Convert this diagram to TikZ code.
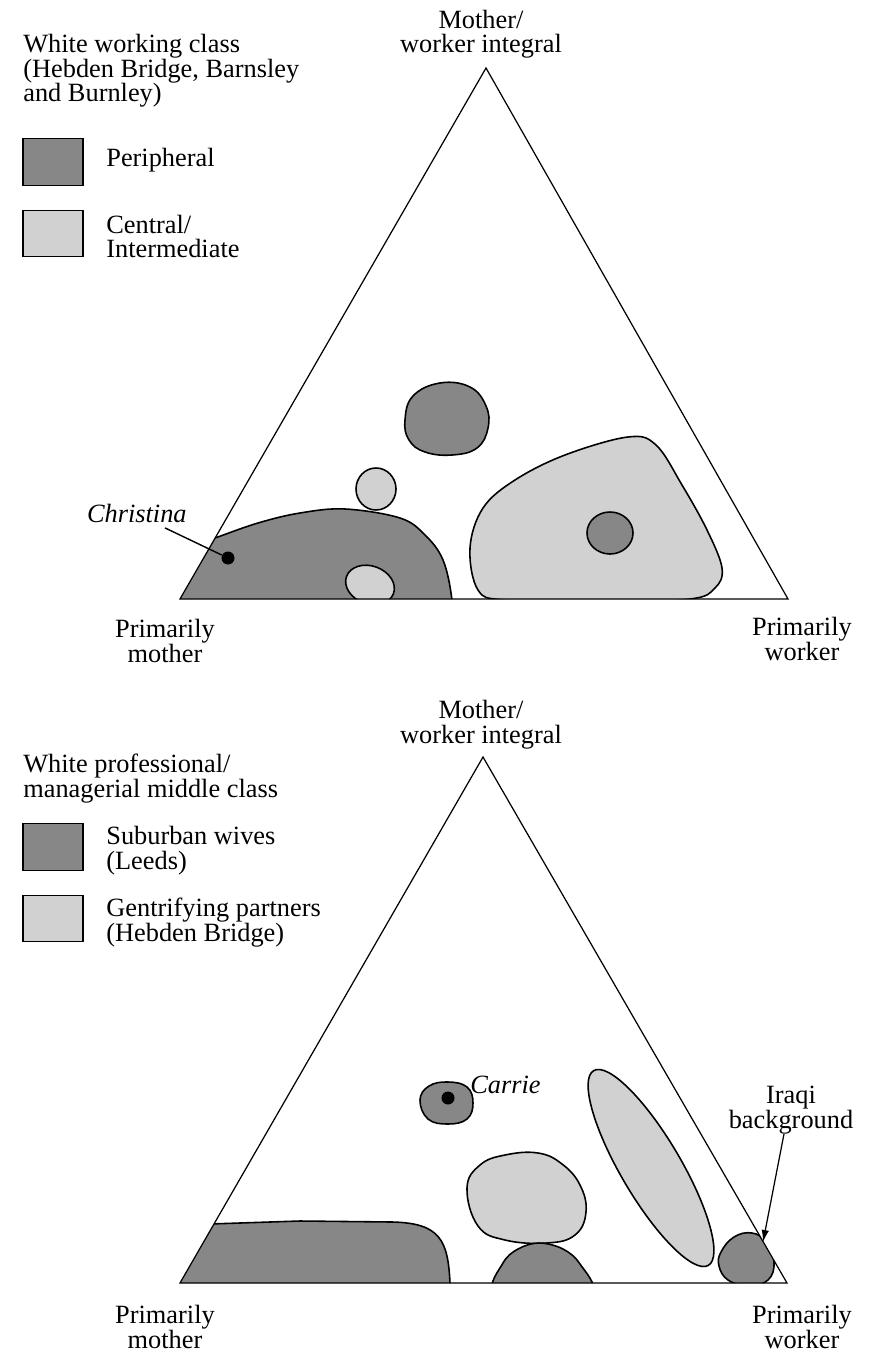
\documentclass[tikz,border=0pt]{standalone}
\usepackage{fontspec}
\setmainfont{Liberation Serif}
\usetikzlibrary{arrows.meta,calc}
\definecolor{darkfill}{gray}{0.53}
\definecolor{lightfill}{gray}{0.82}
\tikzset{
  tri/.style={line width=0.7pt, line join=miter},
  darkzone/.style={fill=darkfill, draw=black, line width=0.9pt},
  lightzone/.style={fill=lightfill, draw=black, line width=0.9pt},
  legbox/.style={draw=black, line width=0.8pt, minimum width=1.2cm, minimum height=0.93cm, inner sep=0pt},
  txt/.style={font=\fontsize{15}{14}\selectfont, inner sep=0pt},
  personlbl/.style={font=\fontsize{15}{14}\selectfont\itshape, inner sep=0pt},
  pin/.style={circle, fill=black, minimum size=0.26cm, inner sep=0pt},
  leader/.style={line width=0.8pt},
  pointer/.style={line width=0.7pt, -{Latex[length=2.4mm, width=1.5mm]}}
}

\begin{document}
\begin{tikzpicture}[x=0.02cm, y=-0.02cm]
\useasboundingbox (0,0) rectangle (868,1354);

% upper triangle: white working class
\coordinate (tA) at (486,68);
\coordinate (tL) at (180,599);
\coordinate (tR) at (788,599);

\node[txt, anchor=base west, align=left] (wtitle) at (23,102) {White working class\\(Hebden Bridge, Barnsley\\and Burnley)};
\node[legbox, fill=darkfill] (kperi) at (53,162) {};
\node[txt, anchor=base west] (lperi) at (106,167) {Peripheral};
\node[legbox, fill=lightfill] (kcent) at (53,233.5) {};
\node[txt, anchor=base west, align=left] (lcent) at (106,258) {Central/\\Intermediate};

\begin{scope}
\clip (tL) -- (tA) -- (tR) -- cycle;
\draw[darkzone] plot[smooth cycle, tension=0.6] coordinates {(140,640) (150,552) (195,545) (215,538) (258,523) (300,513) (345,509) (400,518) (425,535) (443,560) (452,600) (455,650) (300,660)};
\draw[lightzone] (370,585) circle [x radius=25, y radius=19, rotate=-20];
\draw[lightzone] (376,489) circle [x radius=20, y radius=21];
\draw[darkzone] plot[smooth cycle, tension=0.7] coordinates {(405,420) (413,396) (440,383) (470,387) (486,406) (488,428) (477,448) (452,455) (425,452) (409,440)};
\draw[lightzone] plot[smooth cycle, tension=0.6] coordinates {(470,548) (483,508) (515,480) (565,455) (628,437) (656,445) (682,485) (707,530) (722,568) (715,588) (690,599) (600,602) (505,600) (478,590)};
\draw[darkzone] (610,533) circle [x radius=23, y radius=21];
\end{scope}
\draw[tri] (tL) -- (tA) -- (tR) -- cycle;

\node[pin] (cdot) at (228,558) {};
\node[personlbl, anchor=base east] (christina) at (187,522) {Christina};
\draw[leader] ([yshift=-3pt]$(christina.south)!0.56!(christina.south east)$) -- (cdot);

\node[txt, anchor=base, align=center] (ttop) at (481,53) {Mother/\\worker integral};
\node[txt, anchor=base, align=center] (tmum) at (165,662) {Primarily\\mother};
\node[txt, anchor=base, align=center] (twork) at (802,660) {Primarily\\worker};

% lower triangle: professional/managerial middle class
\coordinate (bA) at (483,757);
\coordinate (bL) at (180,1283);
\coordinate (bR) at (787,1283);

\node[txt, anchor=base west, align=left] (mtitle) at (23,797) {White professional/\\managerial middle class};
\node[legbox, fill=darkfill] (ksub) at (53,847) {};
\node[txt, anchor=base west, align=left] (lsub) at (106,869) {Suburban wives\\(Leeds)};
\node[legbox, fill=lightfill] (kgen) at (53,918.5) {};
\node[txt, anchor=base west, align=left] (lgen) at (106,941) {Gentrifying partners\\(Hebden Bridge)};

\begin{scope}
\clip (bL) -- (bA) -- (bR) -- cycle;
\draw[darkzone] (150,1226) -- (300,1221) -- (392,1222) .. controls (440,1223) and (448,1240) .. (450,1283) -- (450,1320) -- (150,1320) -- cycle;
\draw[lightzone] plot[smooth cycle, tension=0.7] coordinates {(467,1188) (480,1165) (505,1155) (538,1153) (562,1164) (580,1185) (586,1212) (575,1235) (547,1243) (505,1240) (478,1226)};
\draw[darkzone] plot[smooth cycle, tension=0.6] coordinates {(494,1292) (503,1263) (518,1249) (539,1243) (563,1249) (580,1264) (592,1292) (545,1305)};
\draw[lightzone] (651,1168) circle [x radius=113, y radius=30, rotate=-59.5];
\draw[darkzone] plot[smooth cycle, tension=0.7] coordinates {(721,1252) (734,1237) (752,1233) (766,1242) (774,1262) (768,1280) (748,1286) (728,1280) (719,1266)};
\draw[darkzone] plot[smooth cycle, tension=0.7] coordinates {(420,1100) (429,1086) (448,1082) (467,1087) (473,1103) (467,1119) (448,1124) (428,1119)};
\end{scope}
\draw[tri] (bL) -- (bA) -- (bR) -- cycle;

\node[pin] (rdot) at (448,1098) {};
\node[personlbl, anchor=base west] (carrie) at (470,1093) {Carrie};

\node[txt, anchor=base, align=center] (iraqi) at (791,1128) {Iraqi\\background};
\coordinate (iraqiblob) at (763,1242);
\draw[pointer] ([xshift=-4pt]iraqi.south) -- (iraqiblob);

\node[txt, anchor=base, align=center] (btop) at (481,743) {Mother/\\worker integral};
\node[txt, anchor=base, align=center] (bmum) at (165,1348) {Primarily\\mother};
\node[txt, anchor=base, align=center] (bwork) at (802,1348) {Primarily\\worker};
\end{tikzpicture}
\end{document}
